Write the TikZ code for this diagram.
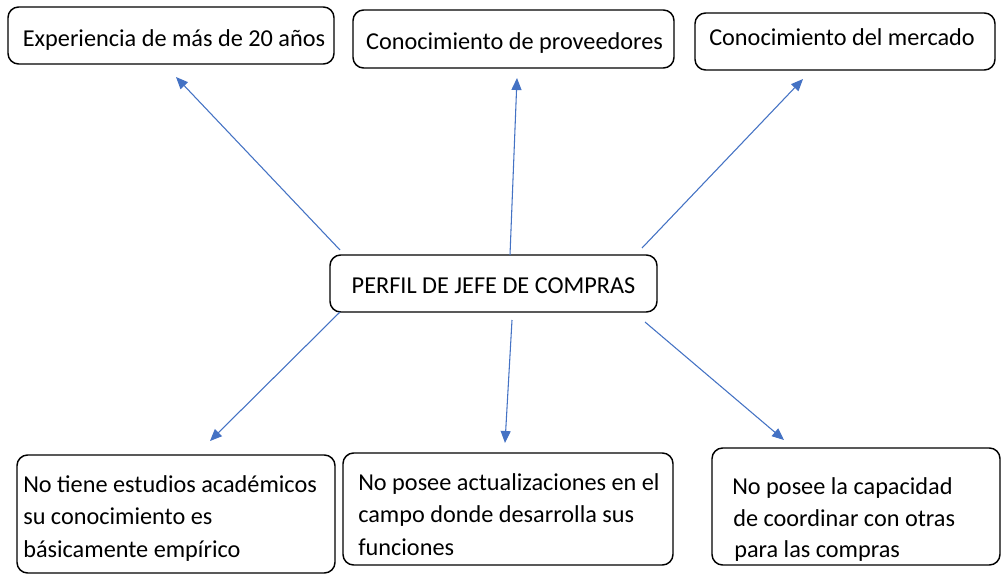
\documentclass[tikz,border=0pt]{standalone}
\usepackage{fontspec}
\setmainfont{Carlito}
\usetikzlibrary{arrows.meta}
\definecolor{ablue}{HTML}{4472C4}
\begin{document}
\begin{tikzpicture}[x=0.75pt,y=-0.75pt,
  box/.style={draw=black, line width=1.1pt, rounded corners=8pt, inner sep=0pt},
  txt/.style={font=\fontsize{18.2}{24.4}\selectfont, inner sep=0pt, anchor=base},
  lbl/.style={font=\fontsize{18.2}{24.4}\selectfont, inner sep=0pt, anchor=base west},
  conn/.style={ablue, line width=0.8pt, -{Triangle[length=9pt,width=7.5pt]}}]
\useasboundingbox[fill=white] (0,0) rectangle (1002,575);
% top boxes
\node[box, minimum width=244.5pt, minimum height=42.75pt] (exp) at (171,35.5) {};
\node[box, minimum width=240.75pt, minimum height=43.5pt] (prov) at (513.5,39) {};
\node[box, minimum width=225pt, minimum height=42.75pt] (merc) at (845,41.5) {};
\node[txt] (expt) at (174,46.5) {Experiencia de más de 20 años};
\node[txt] (provt) at (514.5,49) {Conocimiento de proveedores};
\node[txt] (merct) at (842,45) {Conocimiento del mercado};
% center
\node[box, minimum width=245.25pt, minimum height=42.75pt] (perf) at (493.5,283.5) {};
\node[txt] (perft) at (493.5,293) {PERFIL DE JEFE DE COMPRAS};
% bottom boxes
\node[box, minimum width=238.5pt, minimum height=88.5pt] (est) at (176,514) {};
\node[box, minimum width=247.5pt, minimum height=84pt] (act) at (508,509) {};
\node[box, minimum width=216pt, minimum height=87.75pt] (coo) at (856,506.5) {};
% bottom texts
\node[lbl] (est1) at (23,492.5) {No tiene estudios académicos};
\node[lbl] (est2) at (23,524.5) {su conocimiento es};
\node[lbl] (est3) at (23,557) {básicamente empírico};
\node[lbl] (act1) at (358,490) {No posee actualizaciones en el};
\node[lbl] (act2) at (358,522.5) {campo donde desarrolla sus};
\node[lbl] (act3) at (358,555) {funciones};
\node[lbl] (coo1) at (732,494) {No posee la capacidad};
\node[lbl] (coo2) at (733,526) {de coordinar con otras};
\node[lbl] (coo3) at (734,557) {para las compras};
% connector ends
\coordinate (s1) at (340,250); \coordinate (t1) at (176,77);
\coordinate (s2) at (510,255); \coordinate (t2) at (517,78);
\coordinate (s3) at (642,248); \coordinate (t3) at (803,79);
\coordinate (s4) at (340,312); \coordinate (t4) at (210,441);
\coordinate (s5) at (512,320); \coordinate (t5) at (505,443);
\coordinate (s6) at (645,322); \coordinate (t6) at (784,440);
\draw[conn] (s1) -- (t1);
\draw[conn] (s2) -- (t2);
\draw[conn] (s3) -- (t3);
\draw[conn] (s4) -- (t4);
\draw[conn] (s5) -- (t5);
\draw[conn] (s6) -- (t6);
\end{tikzpicture}
\end{document}
